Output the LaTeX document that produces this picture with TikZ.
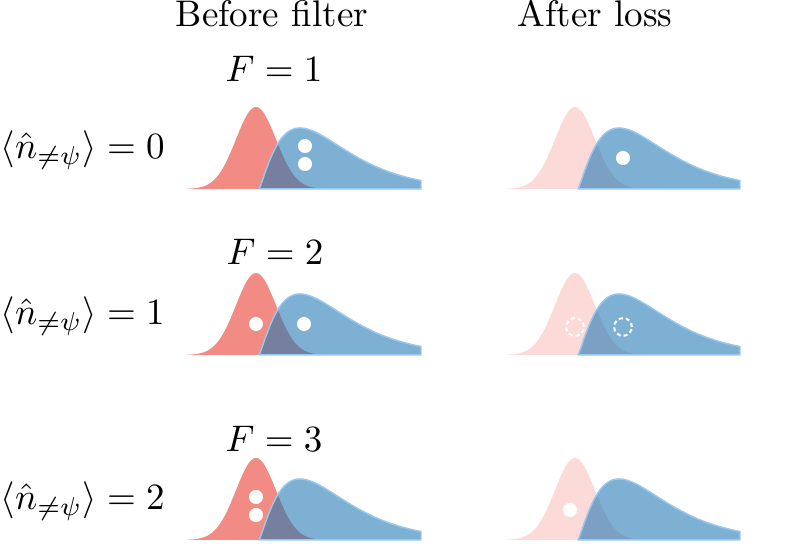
\documentclass[tikz,border=0pt]{standalone}
\usepackage{amsmath}
\definecolor{redA}{RGB}{241,139,132}
\definecolor{redB}{RGB}{251,218,216}
\definecolor{blueF}{RGB}{31,119,180}
\definecolor{blueS}{RGB}{150,200,240}
\tikzset{
  bluecurve/.style={fill=blueF, fill opacity=0.58, draw=blueS, line width=0.4pt, line join=round},
  dotw/.style={circle, fill=white, draw=none, inner sep=0pt, minimum size=3.8pt},
  dashw/.style={circle, draw=white, line width=0.55pt, dash pattern=on 1.1pt off 0.8pt, inner sep=0pt, minimum size=4.8pt},
  lbl/.style={inner sep=0pt, font=\fontsize{10}{12}\selectfont}
}
\newcommand\curvepair[3]{%
  \fill[#3] ({187+#1},#2) -- plot[domain=187:325,samples=90] ({\x+#1},{#2-82*exp(-0.5*((\x-256)/20)*((\x-256)/20))}) -- ({325+#1},#2) -- cycle;
  \filldraw[bluecurve] ({259+#1},#2) -- plot[domain=0.01:162,samples=120] ({259+#1+\x},{#2-61*pow(\x/41,1.25)*exp(1.25*(1-\x/41))}) -- ({421+#1},#2) -- cycle;
}
\begin{document}
\begin{tikzpicture}[x=0.27pt,y=-0.27pt]
\useasboundingbox (0,0) rectangle (790,544);
% column titles
\node[lbl, anchor=base] (tbefore) at (272,27) {Before filter};
\node[lbl, anchor=base west] (tafter) at (517,27) {After loss};
% row labels
\node[lbl, anchor=base west] (r1) at (0,159) {$\langle \hat{n}_{\neq\psi}\rangle = 0$};
\node[lbl, anchor=base west] (r2) at (0,325) {$\langle \hat{n}_{\neq\psi}\rangle = 1$};
\node[lbl, anchor=base west] (r3) at (0,510) {$\langle \hat{n}_{\neq\psi}\rangle = 2$};
% F labels
\node[lbl, anchor=base] (f1) at (274,82) {$F = 1$};
\node[lbl, anchor=base] (f2) at (275,265) {$F = 2$};
\node[lbl, anchor=base] (f3) at (274,452) {$F = 3$};
% curves
\curvepair{0}{189}{redA}
\curvepair{319}{189}{redB}
\curvepair{0}{355}{redA}
\curvepair{319}{355}{redB}
\curvepair{0}{540}{redA}
\curvepair{319}{540}{redB}
% row 1 dots
\node[dotw] (d1a) at (305,146) {};
\node[dotw] (d1b) at (305,164) {};
\node[dotw] (d1c) at (623,158) {};
% row 2 dots
\node[dotw] (d2a) at (256,324) {};
\node[dotw] (d2b) at (304,324) {};
\node[dashw] (d2c) at (575,327) {};
\node[dashw] (d2d) at (623,327) {};
% row 3 dots
\node[dotw] (d3a) at (256,497) {};
\node[dotw] (d3b) at (256,515) {};
\node[dotw] (d3c) at (570,510) {};
\end{tikzpicture}
\end{document}
